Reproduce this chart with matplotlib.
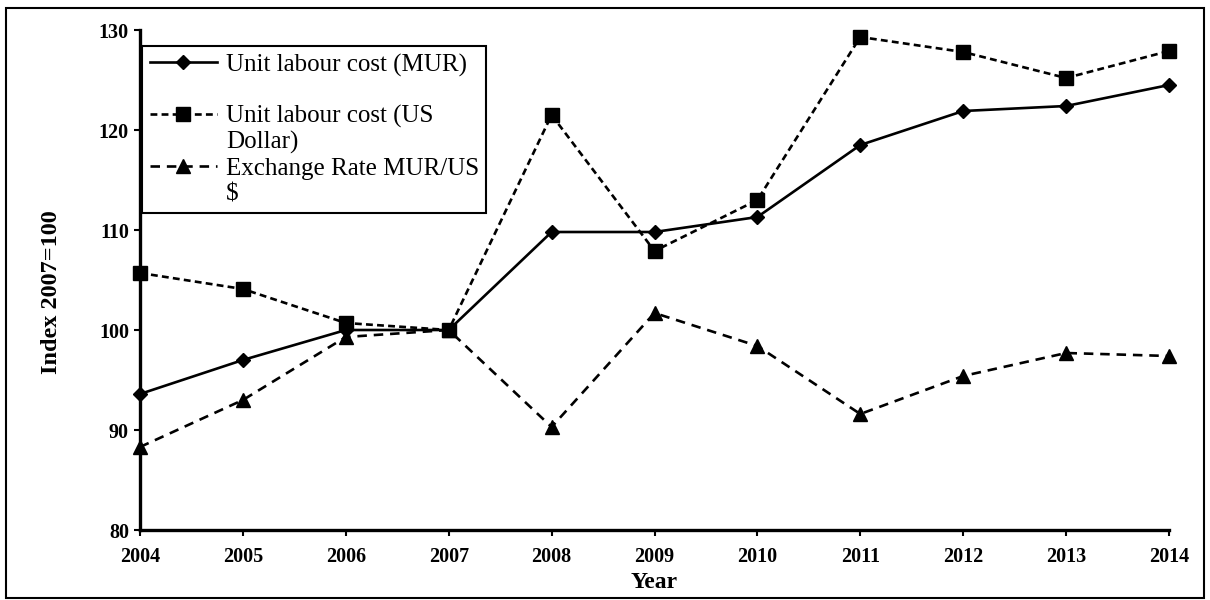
import numpy as np
import matplotlib.pyplot as plt
from matplotlib.lines import Line2D
from matplotlib.patches import Rectangle

years = [2004, 2005, 2006, 2007, 2008, 2009, 2010, 2011, 2012, 2013, 2014]
ulc_mur = [93.6, 97.0, 100.0, 100.0, 109.8, 109.8, 111.3, 118.5, 121.9, 122.4, 124.5]
ulc_usd = [105.7, 104.1, 100.7, 100.0, 121.5, 107.9, 113.0, 129.3, 127.8, 125.2, 127.9]
exch_rate = [88.3, 93.0, 99.3, 100.0, 90.3, 101.7, 98.4, 91.6, 95.4, 97.7, 97.4]

serif = ['Liberation Serif', 'DejaVu Serif']
plt.rcParams['font.family'] = serif

fig = plt.figure(figsize=(12.1, 6), dpi=100)
ax = fig.add_axes([140 / 1210, 70 / 600, 1029 / 1210, 500 / 600])

lw = 1.9
ax.plot(years, ulc_mur, color='black', lw=lw, ls='-', marker='D', ms=7,
        clip_on=False, zorder=3)
ax.plot(years, ulc_usd, color='black', lw=lw, ls=(0, (2.6, 1.6)), marker='s',
        ms=10.5, clip_on=False, zorder=3)
ax.plot(years, exch_rate, color='black', lw=lw, ls=(0, (3.6, 2.6)), marker='^',
        ms=10.5, clip_on=False, zorder=3)

ax.set_xlim(2004, 2014)
ax.set_ylim(80, 130)
ax.set_xticks(years)
ax.set_yticks(np.arange(80, 131, 10))

for s in ['top', 'right']:
    ax.spines[s].set_visible(False)
for s in ['left', 'bottom']:
    ax.spines[s].set_linewidth(2.4)
ax.tick_params(direction='out', length=4, width=1.5, labelsize=14.5, pad=4)
ax.tick_params(axis='x', pad=8)
for lab in ax.get_xticklabels() + ax.get_yticklabels():
    lab.set_fontweight('bold')

ax.set_xlabel('Year', fontsize=17, fontweight='bold', labelpad=4)
ax.set_ylabel('Index 2007=100', fontsize=17.5, fontweight='bold')
ax.yaxis.set_label_coords(-0.076, 0.475)

# legend, one row per text line so the markers sit on the first line
blank = Line2D([], [], color='none')
handles = [
    Line2D([], [], color='black', lw=lw, ls='-', marker='D', ms=7),
    blank,
    Line2D([], [], color='black', lw=lw, ls=(0, (2.6, 1.6)), marker='s', ms=10.5),
    blank,
    Line2D([], [], color='black', lw=lw, ls=(0, (3.6, 2.6)), marker='^', ms=10.5),
    blank,
]
labels = ['Unit labour cost (MUR)', ' ', 'Unit labour cost (US', 'Dollar)',
          'Exchange Rate MUR/US', '$']
leg = ax.legend(handles, labels, loc='upper left', bbox_to_anchor=(0.002, 0.968),
                borderaxespad=0, fontsize=18, labelspacing=0.12,
                handlelength=2.7, handletextpad=0.35, borderpad=0.3,
                fancybox=False, framealpha=1, edgecolor='black')
leg.get_frame().set_linewidth(1.5)

fig.patches.append(Rectangle((0.005, 0.003), 0.99, 0.984, transform=fig.transFigure,
                             fill=False, edgecolor='black', lw=1.5))

fig.savefig('out.png', dpi=100)
